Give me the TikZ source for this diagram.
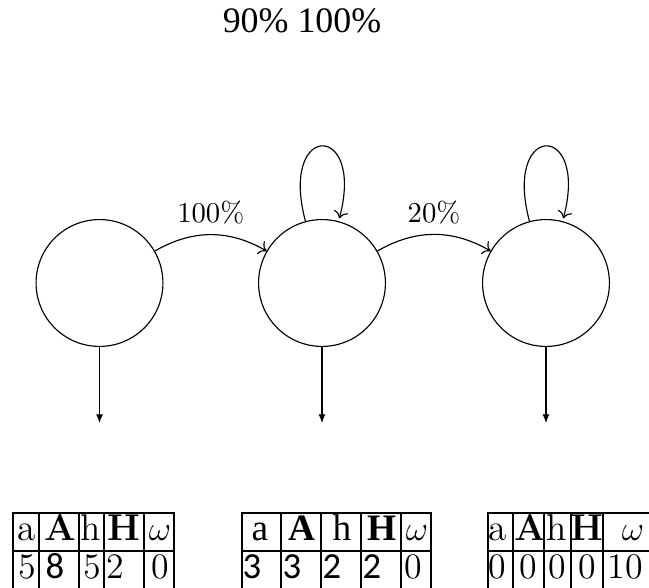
\documentclass[tikz,border=0pt]{standalone}
\usepackage{fontspec}
\newfontfamily\timesfont{Liberation Serif}
\newfontfamily\sansfnt{Carlito}
\usetikzlibrary{arrows.meta}
\begin{document}
\begin{tikzpicture}[x=0.3484pt,y=-0.3484pt,
  state/.style={circle,draw,minimum size=44.2pt,inner sep=0pt},
  cell/.style={inner sep=0pt,anchor=base,font=\fontsize{13}{15}\selectfont},
  vcell/.style={inner sep=0pt,anchor=base,font=\fontsize{12.5}{15}\selectfont},
  scell/.style={inner sep=0pt,anchor=base,font=\sansfnt\fontsize{12.8}{15}\selectfont},
  grid/.style={line width=0.4pt},
  outarrow/.style={-{Latex[length=3pt,width=2.4pt]}},
  lbl/.style={above}]
\useasboundingbox (0,0) rectangle (649,587);
\node (title) at (302,21) {\timesfont\fontsize{12.5}{15}\selectfont 90\% 100\%};
\node[state] (s1) at (99.5,283) {};
\node[state] (s2) at (322,283) {};
\node[state] (s3) at (546,283) {};
\draw[->] (s1) to[bend left] node[lbl] (l1) {100\%} (s2);
\draw[->] (s2) to[bend left] node[lbl] (l2) {20\%} (s3);
\path (s2) edge[loop above] (s2);
\path (s3) edge[loop above] (s3);
\coordinate (e1) at (99.5,423);
\coordinate (e2) at (322,423);
\coordinate (e3) at (546,423);
\draw[outarrow] (s1) -- (e1);
\draw[outarrow] (s2) -- (e2);
\draw[outarrow] (s3) -- (e3);
% table 1
\draw[grid] (13,513) rectangle (174,589) (13,551) -- (174,551);
\foreach \x in {39,79,104,144} \draw[grid] (\x,513) -- (\x,589);
\node[cell] (t1a) at (27,540) {a};
\node[cell] (t1b) at (60,540) {\textbf{A}};
\node[cell] (t1c) at (91,540) {h};
\node[cell] (t1d) at (124,540) {\textbf{H}};
\node[cell] (t1e) at (160,540) {$\omega$};
\node[vcell] (t1f) at (27,578.5) {5};
\node[scell] (t1g) at (55,578.5) {8};
\node[vcell] (t1h) at (92,578.5) {5};
\node[vcell] (t1i) at (115,578.5) {2};
\node[vcell] (t1j) at (160,578.5) {0};
% table 2
\draw[grid] (242,513) rectangle (431,589) (242,551) -- (431,551);
\foreach \x in {281,321,361,401} \draw[grid] (\x,513) -- (\x,589);
\node[cell] (t2a) at (260,540) {\timesfont a};
\node[cell] (t2b) at (302,540) {\timesfont\bfseries A};
\node[cell] (t2c) at (342,540) {\timesfont h};
\node[cell] (t2d) at (382,540) {\timesfont\bfseries H};
\node[cell] (t2e) at (417,540) {$\omega$};
\node[scell] (t2f) at (252,578.5) {3};
\node[scell] (t2g) at (292,578.5) {3};
\node[scell] (t2h) at (332,578.5) {2};
\node[scell] (t2i) at (372,578.5) {2};
\node[vcell] (t2j) at (413,578.5) {0};
% table 3
\draw[grid] (488,513) rectangle (650,589) (488,551) -- (650,551);
\foreach \x in {513,544,571,603} \draw[grid] (\x,513) -- (\x,589);
\node[cell] (t3a) at (498,540) {a};
\node[cell] (t3b) at (530,540) {\textbf{A}};
\node[cell] (t3c) at (557,540) {h};
\node[cell] (t3d) at (587,540) {\textbf{H}};
\node[cell] (t3e) at (633,540) {$\omega$};
\node[vcell] (t3f) at (497,578.5) {0};
\node[vcell] (t3g) at (528,578.5) {0};
\node[vcell] (t3h) at (557,578.5) {0};
\node[vcell] (t3i) at (587,578.5) {0};
\node[vcell] (t3j) at (625,578.5) {10};
\end{tikzpicture}
\end{document}
